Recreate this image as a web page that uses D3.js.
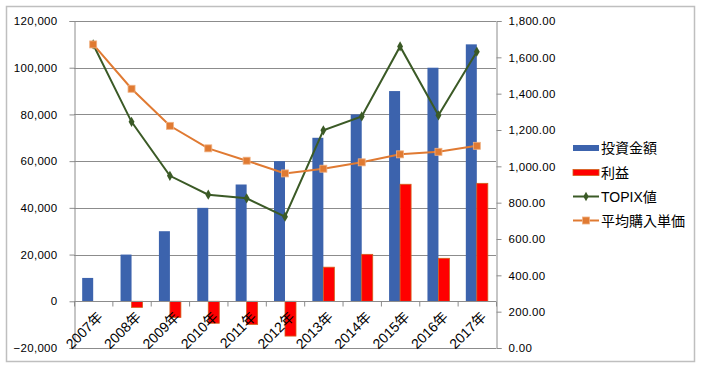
<!DOCTYPE html>
<html>
<head>
<meta charset="utf-8">
<script src="https://cdn.jsdelivr.net/npm/d3@7"></script>
<style>
body { margin: 0; background: #fff; }
text { font-family: "Liberation Sans", "Noto Sans CJK JP", sans-serif; fill: #000; }
</style>
</head>
<body>
<svg width="704" height="373"></svg>
<script>
// data
const years = ["2007年", "2008年", "2009年", "2010年", "2011年", "2012年", "2013年", "2014年", "2015年", "2016年", "2017年"]
const investment = [10000, 20000, 30000, 40000, 50000, 60000, 70000, 80000, 90000, 100000, 110000]
const profit = [0, -2600, -6900, -9400, -9900, -14900, 14600, 20100, 50100, 18400, 50500]
const topix = [1671, 1245, 948, 844, 824, 723, 1198, 1275, 1660, 1281, 1631]
const avgPrice = [1671, 1427, 1223, 1099, 1031, 961, 987, 1022, 1066, 1080, 1113]
const leftTicks = [-20000, 0, 20000, 40000, 60000, 80000, 100000, 120000]
const rightTicks = [0, 200, 400, 600, 800, 1000, 1200, 1400, 1600, 1800]

const svg = d3.select("svg")

// outer frame
svg.append("rect")
    .attr("x", 6.5).attr("y", 6.5)
    .attr("width", 688).attr("height", 355)
    .attr("fill", "#fff")
    .attr("stroke", "#bfbfbf")
    .attr("stroke-width", 1.5)

const plot = { left: 74, right: 496, top: 21, bottom: 348 }

const x = d3.scaleBand()
    .domain(years)
    .range([plot.left, plot.right])

const yL = d3.scaleLinear()
    .domain([-20000, 120000])
    .range([plot.bottom, plot.top])

const yR = d3.scaleLinear()
    .domain([0, 1800])
    .range([plot.bottom, plot.top])

const fmt = d3.format(",")
const fmt2 = d3.format(",.2f")

// gridlines
svg.append("g")
    .selectAll("line")
    .data(leftTicks)
    .join("line")
    .attr("x1", plot.left).attr("x2", plot.right)
    .attr("y1", d => Math.round(yL(d)) + 0.5)
    .attr("y2", d => Math.round(yL(d)) + 0.5)
    .attr("stroke", "#8c8c8c")

// left axis
const leftAxis = svg.append("g")
    .attr("transform", `translate(${plot.left + 0.5},0)`)
    .call(d3.axisLeft(yL).tickValues(leftTicks).tickFormat(fmt).tickSize(5).tickPadding(12))
leftAxis.select(".domain").attr("stroke", "#8c8c8c")
leftAxis.selectAll(".tick line").attr("stroke", "#8c8c8c")
leftAxis.selectAll("text").style("font-size", "11.5px").style("letter-spacing", "0.3px").attr("fill", "#000")

// right axis
const rightAxis = svg.append("g")
    .attr("transform", `translate(${plot.right + 0.5},0)`)
    .call(d3.axisRight(yR).tickValues(rightTicks).tickFormat(fmt2).tickSize(5).tickPadding(7))
rightAxis.select(".domain").attr("stroke", "#8c8c8c")
rightAxis.selectAll(".tick line").attr("stroke", "#8c8c8c")
rightAxis.selectAll("text").style("font-size", "11.5px").style("letter-spacing", "0.3px").attr("fill", "#000")

// bars
const barW = 11
svg.append("g")
    .selectAll("rect")
    .data(investment)
    .join("rect")
    .attr("x", (d, i) => x(years[i]) + x.bandwidth() / 2 - barW)
    .attr("y", d => yL(Math.max(0, d)))
    .attr("width", barW)
    .attr("height", d => Math.abs(yL(d) - yL(0)))
    .attr("fill", "#3c63ad")

svg.append("g")
    .selectAll("rect")
    .data(profit)
    .join("rect")
    .attr("x", (d, i) => x(years[i]) + x.bandwidth() / 2)
    .attr("y", d => yL(Math.max(0, d)))
    .attr("width", barW)
    .attr("height", d => Math.abs(yL(d) - yL(0)))
    .attr("fill", "#ff0000")
    .attr("stroke", d => d === 0 ? "none" : "#d2601a")
    .attr("stroke-width", 0.8)

// category axis at zero
const xAxis = svg.append("g")
    .attr("transform", `translate(0,${Math.round(yL(0)) + 0.5})`)
xAxis.append("line")
    .attr("x1", plot.left).attr("x2", plot.right)
    .attr("stroke", "#8c8c8c")
xAxis.selectAll(".tk")
    .data(d3.range(years.length + 1))
    .join("line")
    .attr("x1", i => plot.left + i * x.bandwidth() + 0.5)
    .attr("x2", i => plot.left + i * x.bandwidth() + 0.5)
    .attr("y1", 0).attr("y2", 5)
    .attr("stroke", "#8c8c8c")
xAxis.selectAll("text")
    .data(years)
    .join("text")
    .attr("transform", d => `translate(${x(d) + x.bandwidth() / 2 + 3},${9}) rotate(-45)`)
    .attr("text-anchor", "end")
    .attr("dy", "0.75em")
    .style("font-size", "14px")
    .text(d => d)

// lines
const cx = i => x(years[i]) + x.bandwidth() / 2

const topixLine = d3.line().x((d, i) => cx(i)).y(d => yR(d))
svg.append("path")
    .datum(topix)
    .attr("d", topixLine)
    .attr("fill", "none")
    .attr("stroke", "#3b5a26")
    .attr("stroke-width", 2)

const avgLine = d3.line().x((d, i) => cx(i)).y(d => yR(d))
svg.append("path")
    .datum(avgPrice)
    .attr("d", avgLine)
    .attr("fill", "none")
    .attr("stroke", "#e07a32")
    .attr("stroke-width", 2)

svg.append("g")
    .selectAll("path")
    .data(topix)
    .join("path")
    .attr("transform", (d, i) => `translate(${cx(i)},${yR(d)})`)
    .attr("d", d3.symbol(d3.symbolDiamond, 30))
    .attr("fill", "#3b5a26")

svg.append("g")
    .selectAll("rect")
    .data(avgPrice)
    .join("rect")
    .attr("x", (d, i) => cx(i) - 3.5)
    .attr("y", d => yR(d) - 3.5)
    .attr("width", 7).attr("height", 7)
    .attr("fill", "#e07a32")
    .attr("stroke", "#f0b080")
    .attr("stroke-width", 0.8)

// legend
const legend = svg.append("g").attr("transform", "translate(573,0)")
const legendY = [148, 172.5, 196.5, 220.5]
const names = ["投資金額", "利益", "TOPIX値", "平均購入単価"]

legend.append("rect").attr("x", 0).attr("y", legendY[0] - 3).attr("width", 26).attr("height", 6).attr("fill", "#3c63ad")
legend.append("rect").attr("x", 0).attr("y", legendY[1] - 3).attr("width", 26).attr("height", 6).attr("fill", "#ff0000").attr("stroke", "#d2601a").attr("stroke-width", 0.8)
legend.append("line").attr("x1", 0).attr("x2", 26).attr("y1", legendY[2]).attr("y2", legendY[2]).attr("stroke", "#3b5a26").attr("stroke-width", 2)
legend.append("path").attr("transform", `translate(13,${legendY[2]})`).attr("d", d3.symbol(d3.symbolDiamond, 25)).attr("fill", "#3b5a26")
legend.append("line").attr("x1", 0).attr("x2", 26).attr("y1", legendY[3]).attr("y2", legendY[3]).attr("stroke", "#e07a32").attr("stroke-width", 2)
legend.append("rect").attr("x", 9.5).attr("y", legendY[3] - 3.5).attr("width", 7).attr("height", 7).attr("fill", "#e07a32").attr("stroke", "#f0b080").attr("stroke-width", 0.8)

legend.selectAll("text.lg")
    .data(names)
    .join("text")
    .attr("class", "lg")
    .attr("x", 28)
    .attr("y", (d, i) => legendY[i])
    .attr("dy", "0.36em")
    .style("font-size", "14px")
    .text(d => d)
</script>
</body>
</html>
